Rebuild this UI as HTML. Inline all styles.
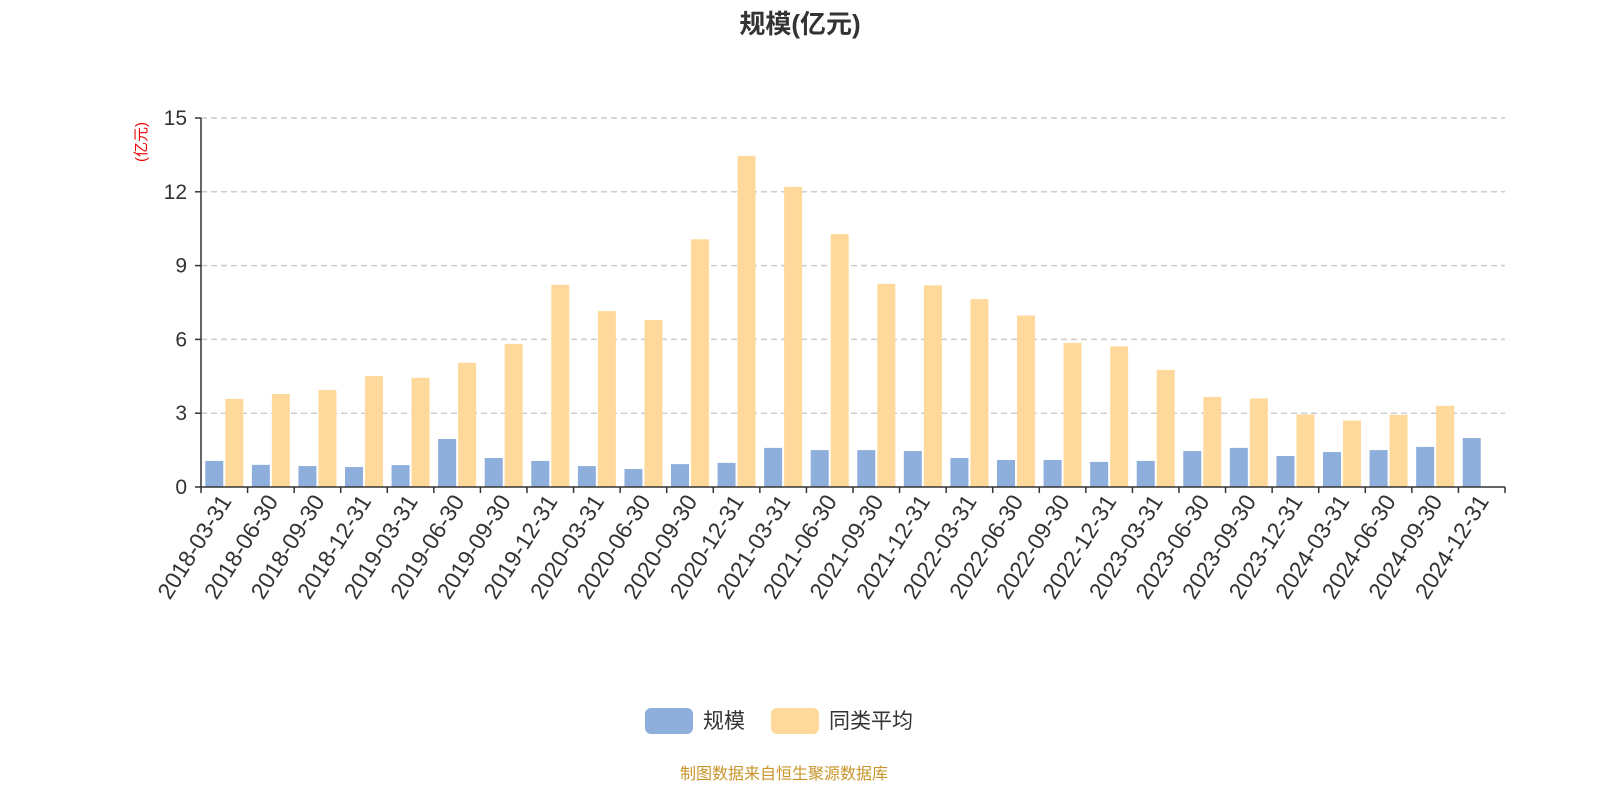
<!DOCTYPE html>
<html><head><meta charset="utf-8">
<style>
body{margin:0;background:#fff;font-family:"Liberation Sans","Noto Sans CJK SC",sans-serif;}
svg{display:block}
</style></head>
<body>
<svg id="chart" width="1600" height="800" viewBox="0 0 1600 800" xmlns="http://www.w3.org/2000/svg" font-family="Liberation Sans, Noto Sans CJK SC, sans-serif">
<text x="800" y="33" text-anchor="middle" font-size="26" font-weight="bold" fill="#333">规模(亿元)</text>
<text transform="translate(146,142) rotate(-90)" text-anchor="middle" font-size="15" fill="#e00">(亿元)</text>
<g id="grid"></g><g id="bars"></g><g id="axes"></g>
<g>
<g><rect x="645" y="708" width="48" height="26" rx="6" fill="#8eaedb"/><text x="703" y="728" font-size="21" fill="#333">规模</text></g>
<g><rect x="771" y="708" width="48" height="26" rx="6" fill="#fed99b"/><text x="829" y="728" font-size="21" fill="#333">同类平均</text></g>
</g>
<text x="784" y="779" text-anchor="middle" font-size="16" fill="#c8952a">制图数据来自恒生聚源数据库</text>
</svg>
<script>
const categories=["2018-03-31","2018-06-30","2018-09-30","2018-12-31","2019-03-31","2019-06-30","2019-09-30","2019-12-31","2020-03-31","2020-06-30","2020-09-30","2020-12-31","2021-03-31","2021-06-30","2021-09-30","2021-12-31","2022-03-31","2022-06-30","2022-09-30","2022-12-31","2023-03-31","2023-06-30","2023-09-30","2023-12-31","2024-03-31","2024-06-30","2024-09-30","2024-12-31"];
const scaleValues=[1.06,0.9,0.85,0.81,0.89,1.95,1.18,1.06,0.85,0.73,0.93,0.98,1.59,1.5,1.5,1.46,1.18,1.1,1.1,1.02,1.06,1.46,1.59,1.26,1.42,1.5,1.63,1.99];
const avgValues=[3.58,3.78,3.94,4.51,4.44,5.05,5.82,8.22,7.15,6.79,10.07,13.46,12.2,10.28,8.26,8.2,7.64,6.97,5.86,5.72,4.76,3.66,3.6,2.95,2.7,2.93,3.3,null];
const yTicks=[0,3,6,9,12,15];
const NS="http://www.w3.org/2000/svg";
const X0=201,X1=1505,Y0=487,Y1=118,YMAX=15;
const band=(X1-X0)/categories.length;
const y=v=>Y0-(v/YMAX)*(Y0-Y1);
const xc=i=>X0+band*(i+0.5);
function mk(tag,attrs,parent){const e=document.createElementNS(NS,tag);for(const k in attrs)e.setAttribute(k,attrs[k]);parent.appendChild(e);return e;}
const grid=document.getElementById('grid'),bars=document.getElementById('bars'),axes=document.getElementById('axes');
yTicks.forEach(t=>{
  if(t>0){const l=mk('line',{x1:X0,x2:X1,y1:y(t),y2:y(t),stroke:'#ccc','stroke-dasharray':'6,4','stroke-width':1.5},grid);
  
  }
  const tl=mk('text',{x:X0-14,y:y(t)+7,'text-anchor':'end','font-size':21,fill:'#333'},axes);tl.textContent=t;
  
  
  mk('line',{x1:X0-6,x2:X0,y1:y(t),y2:y(t),stroke:'#333','stroke-width':1.5},axes);
});
const bw=18;
categories.forEach((c,i)=>{
  const cx=xc(i);
  const b=mk('rect',{x:cx-bw-1,y:y(scaleValues[i]),width:bw,height:Y0-y(scaleValues[i]),fill:'#8eaedb'},bars);
  
  
  if(avgValues[i]!=null){const a=mk('rect',{x:cx+1,y:y(avgValues[i]),width:bw,height:Y0-y(avgValues[i]),fill:'#fed99b'},bars);
  
  }
  const tx=X0+band*i;
  mk('line',{x1:tx,x2:tx,y1:Y0,y2:Y0+6,stroke:'#333','stroke-width':1.5},axes);
  const lbl=mk('text',{transform:`translate(${cx+8},${Y0+14}) rotate(-58)`,'text-anchor':'end','font-size':23,fill:'#333'},axes);
  lbl.textContent=c;
  
  
});
mk('line',{x1:X1,x2:X1,y1:Y0,y2:Y0+6,stroke:'#333','stroke-width':1.5},axes);
mk('line',{x1:X0,x2:X1,y1:Y0,y2:Y0,stroke:'#333','stroke-width':1.5},axes);
mk('line',{x1:X0,x2:X0,y1:Y1,y2:Y0,stroke:'#333','stroke-width':1.5},axes);
</script>
</body></html>
